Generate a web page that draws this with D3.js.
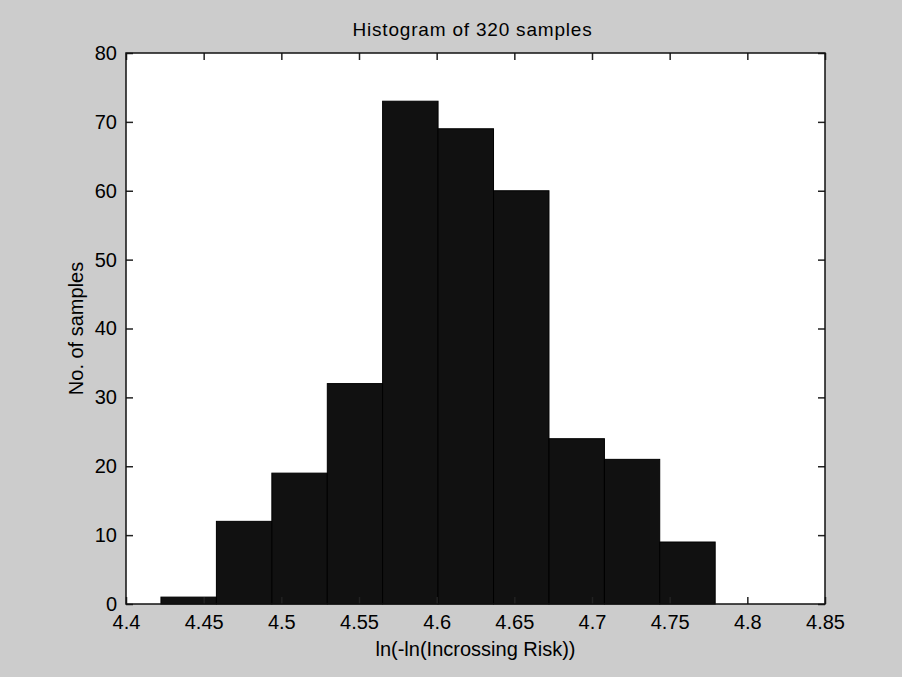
<!DOCTYPE html>
<html>
<head>
<meta charset="utf-8">
<script src="https://cdn.jsdelivr.net/npm/d3@7/dist/d3.min.js"></script>
<style>
  html, body { margin: 0; padding: 0; background: #cccccc; }
  svg { display: block; }
  text { font-family: "Liberation Sans", Arial, sans-serif; fill: #000; }
</style>
</head>
<body>
<svg id="chart" width="902" height="677"></svg>
<script>
// ---- data ----
const titleText = "Histogram of 320 samples";
const xLabelText = "ln(-ln(Incrossing Risk))";
const yLabelText = "No. of samples";
const binStarts = [4.4225, 4.4582, 4.4939, 4.5296, 4.5652, 4.6009, 4.6366, 4.6723, 4.7080, 4.7436];
const binEnds   = [4.4582, 4.4939, 4.5296, 4.5652, 4.6009, 4.6366, 4.6723, 4.7080, 4.7436, 4.7793];
const counts    = [1, 12, 19, 32, 73, 69, 60, 24, 21, 9];
const xTicks = [4.4, 4.45, 4.5, 4.55, 4.6, 4.65, 4.7, 4.75, 4.8, 4.85];
const xTickLabels = ["4.4", "4.45", "4.5", "4.55", "4.6", "4.65", "4.7", "4.75", "4.8", "4.85"];
const yTicks = [0, 10, 20, 30, 40, 50, 60, 70, 80];
const yTickLabels = ["0", "10", "20", "30", "40", "50", "60", "70", "80"];

// ---- layout ----
const L = 126, R = 825, T = 53, B = 604;
const svg = d3.select("#chart");
svg.append("rect").attr("width", 902).attr("height", 677).attr("fill", "#cccccc");

const x = d3.scaleLinear().domain([4.4, 4.85]).range([L, R]);
const y = d3.scaleLinear().domain([0, 80]).range([B, T]);

// plot area
svg.append("rect").attr("x", L).attr("y", T).attr("width", R - L).attr("height", B - T).attr("fill", "#ffffff");

// bars
const bins = counts.map((c, i) => ({ x0: binStarts[i], x1: binEnds[i], c }));
svg.append("g").selectAll("rect").data(bins).join("rect")
  .attr("x", d => x(d.x0))
  .attr("y", d => y(d.c))
  .attr("width", d => x(d.x1) - x(d.x0))
  .attr("height", d => y(0) - y(d.c))
  .attr("fill", "#111111")
  .attr("stroke", "#000000")
  .attr("stroke-width", 1);

const fs = 20;
function styleAxis(g) {
  g.select(".domain").remove();
  g.selectAll(".tick line").attr("stroke", "#222").attr("stroke-width", 1.5);
  g.selectAll(".tick text").attr("font-size", fs).attr("font-family", "'Liberation Sans', Arial, sans-serif").attr("fill", "#000");
}

// bottom axis
svg.append("g").attr("transform", `translate(0,${B})`)
  .call(d3.axisBottom(x).tickValues(xTicks).tickSize(-7).tickPadding(11)
    .tickFormat((d, i) => xTickLabels[i]))
  .call(styleAxis);
// top axis (ticks only)
svg.append("g").attr("transform", `translate(0,${T})`)
  .call(d3.axisTop(x).tickValues(xTicks).tickSize(-7).tickFormat(""))
  .call(styleAxis);
// left axis
svg.append("g").attr("transform", `translate(${L},0)`)
  .call(d3.axisLeft(y).tickValues(yTicks).tickSize(-7).tickPadding(9)
    .tickFormat((d, i) => yTickLabels[i]))
  .call(styleAxis);
// right axis (ticks only)
svg.append("g").attr("transform", `translate(${R},0)`)
  .call(d3.axisRight(y).tickValues(yTicks).tickSize(-7).tickFormat(""))
  .call(styleAxis);

// box
svg.append("rect").attr("x", L).attr("y", T).attr("width", R - L).attr("height", B - T)
  .attr("fill", "none").attr("stroke", "#111").attr("stroke-width", 1.5);

// title
svg.append("text").attr("x", (L + R) / 2 - 3).attr("y", 36)
  .attr("text-anchor", "middle").attr("font-size", 19).attr("letter-spacing", 0.8)
  .text(titleText);
// x label
svg.append("text").attr("x", (L + R) / 2).attr("y", 656)
  .attr("text-anchor", "middle").attr("font-size", fs)
  .text(xLabelText);
// y label
svg.append("text").attr("transform", `translate(83,${(T + B) / 2}) rotate(-90)`)
  .attr("text-anchor", "middle").attr("font-size", fs)
  .text(yLabelText);
</script>
</body>
</html>
